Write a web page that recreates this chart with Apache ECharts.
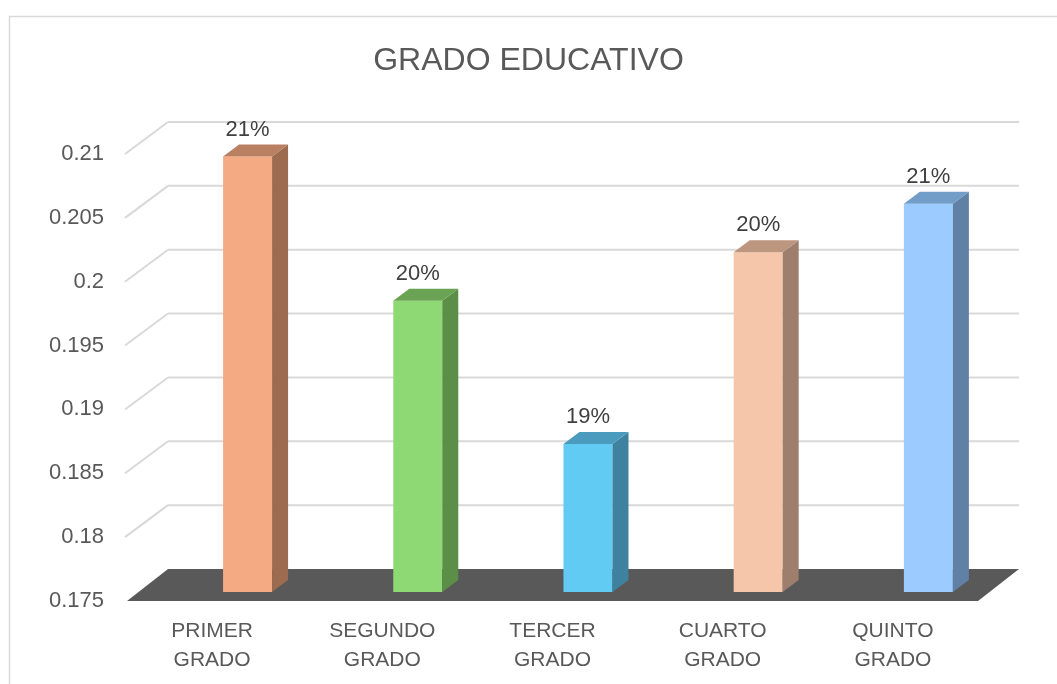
<!DOCTYPE html>
<html>
<head>
<meta charset="utf-8">
<script src="https://cdn.jsdelivr.net/npm/echarts@6/dist/echarts.min.js"></script>
<style>
  html, body { margin: 0; padding: 0; background: #fff; }
  #chart { width: 1057px; height: 684px; }
</style>
</head>
<body>
<div id="chart"></div>
<script>
// datos
const categories = ["PRIMER\nGRADO", "SEGUNDO\nGRADO", "TERCER\nGRADO", "CUARTO\nGRADO", "QUINTO\nGRADO"];
const values = [0.2091, 0.1978, 0.1866, 0.2016, 0.2054];
const yTicks = [0.175, 0.18, 0.185, 0.19, 0.195, 0.2, 0.205, 0.21];

// colores de cada barra: frente, lateral, tapa
const frontColors = ["#F4AB84", "#8FD974", "#61CBF4", "#F5C6AA", "#9BCBFF"];
const sideColors = ["#9C6B50", "#5B8F48", "#3E82A0", "#9E7E6C", "#6080A6"];
const topColors = ["#B98061", "#6AA353", "#4A9BBE", "#BD967F", "#729DC9"];

// vector de profundidad del piso/pared (pseudo 3D)
const DX = 41, DY = -32;
const BAR_F0 = 0.28;      // profundidad de la cara frontal de la barra
const BAR_DX = 16, BAR_DY = -12;
const BAR_W = 49;
const BAR_SHIFT = 24;

const yMin = yTicks[0];
const yMax = yTicks[yTicks.length - 1];

const chart = echarts.init(document.getElementById("chart"));

function renderDecor(params, api) {
  const cs = params.coordSys;
  const children = [];
  const left = cs.x, right = cs.x + cs.width;
  yTicks.forEach(function (v) {
    const y = api.coord([0, v])[1];
    if (v === yMin) return;
    children.push({
      type: "line",
      shape: { x1: left + DX, y1: y + DY, x2: right + DX, y2: y + DY },
      style: { stroke: "#D9D9D9", lineWidth: 2 }
    });
    children.push({
      type: "line",
      shape: { x1: left - 2, y1: y, x2: left + DX, y2: y + DY },
      style: { stroke: "#D9D9D9", lineWidth: 2 }
    });
  });
  const y0 = api.coord([0, yMin])[1];
  children.push({
    type: "polygon",
    shape: {
      points: [[left, y0], [right, y0], [right + DX, y0 + DY], [left + DX, y0 + DY]]
    },
    style: { fill: "#595959" }
  });
  return { type: "group", children: children };
}

function renderBar(params, api) {
  const i = api.value(0);
  const v = api.value(1);
  const top = api.coord([i, v]);
  const base = api.coord([i, yMin]);
  const cx = top[0] + BAR_SHIFT + DX * BAR_F0;
  const xl = cx - BAR_W / 2, xr = cx + BAR_W / 2;
  const yt = top[1] + DY * BAR_F0;
  const yb = base[1] + DY * BAR_F0;
  return {
    type: "group",
    children: [
      {
        type: "rect",
        shape: { x: xl, y: yt, width: BAR_W, height: yb - yt },
        style: { fill: frontColors[i] }
      },
      {
        type: "polygon",
        shape: { points: [[xr, yt], [xr + BAR_DX, yt + BAR_DY], [xr + BAR_DX, yb + BAR_DY], [xr, yb]] },
        style: { fill: sideColors[i] }
      },
      {
        type: "polygon",
        shape: { points: [[xl, yt], [xl + BAR_DX, yt + BAR_DY], [xr + BAR_DX, yt + BAR_DY], [xr, yt]] },
        style: { fill: topColors[i] }
      },
      {
        type: "text",
        style: {
          text: Math.round(v * 100) + "%",
          x: cx,
          y: yt + BAR_DY - 4,
          align: "center",
          verticalAlign: "bottom",
          fill: "#404040",
          font: "22px 'Liberation Sans', Arial, sans-serif"
        }
      }
    ]
  };
}

chart.setOption({
  backgroundColor: "#fff",
  animation: false,
  title: {
    text: "GRADO EDUCATIVO",
    left: "center",
    top: 40,
    textStyle: {
      color: "#595959",
      fontSize: 32,
      fontWeight: "normal",
      fontFamily: "Liberation Sans"
    }
  },
  graphic: [{
    type: "rect",
    shape: { x: 9.5, y: 16.5, width: 1100, height: 720 },
    style: { fill: "none", stroke: "#D9D9D9", lineWidth: 1.5 },
    silent: true
  }],
  grid: { left: 127, right: 79, top: 154, bottom: 83 },
  xAxis: {
    type: "category",
    data: categories,
    axisLine: { show: false },
    axisTick: { show: false },
    axisLabel: {
      color: "#595959",
      fontSize: 21,
      lineHeight: 29,
      margin: 16,
      fontFamily: "Liberation Sans"
    }
  },
  yAxis: {
    type: "value",
    min: yMin,
    max: yMax,
    interval: 0.005,
    axisLine: { show: false },
    axisTick: { show: false },
    splitLine: { show: false },
    axisLabel: {
      color: "#595959",
      fontSize: 22,
      margin: 23,
      fontFamily: "Liberation Sans"
    }
  },
  series: [
    {
      type: "custom",
      renderItem: renderDecor,
      data: [[0, yMin]],
      z: 1,
      silent: true
    },
    {
      type: "custom",
      renderItem: renderBar,
      data: values.map(function (v, i) { return [i, v]; }),
      encode: { x: 0, y: 1 },
      z: 2
    }
  ]
});
</script>
</body>
</html>
